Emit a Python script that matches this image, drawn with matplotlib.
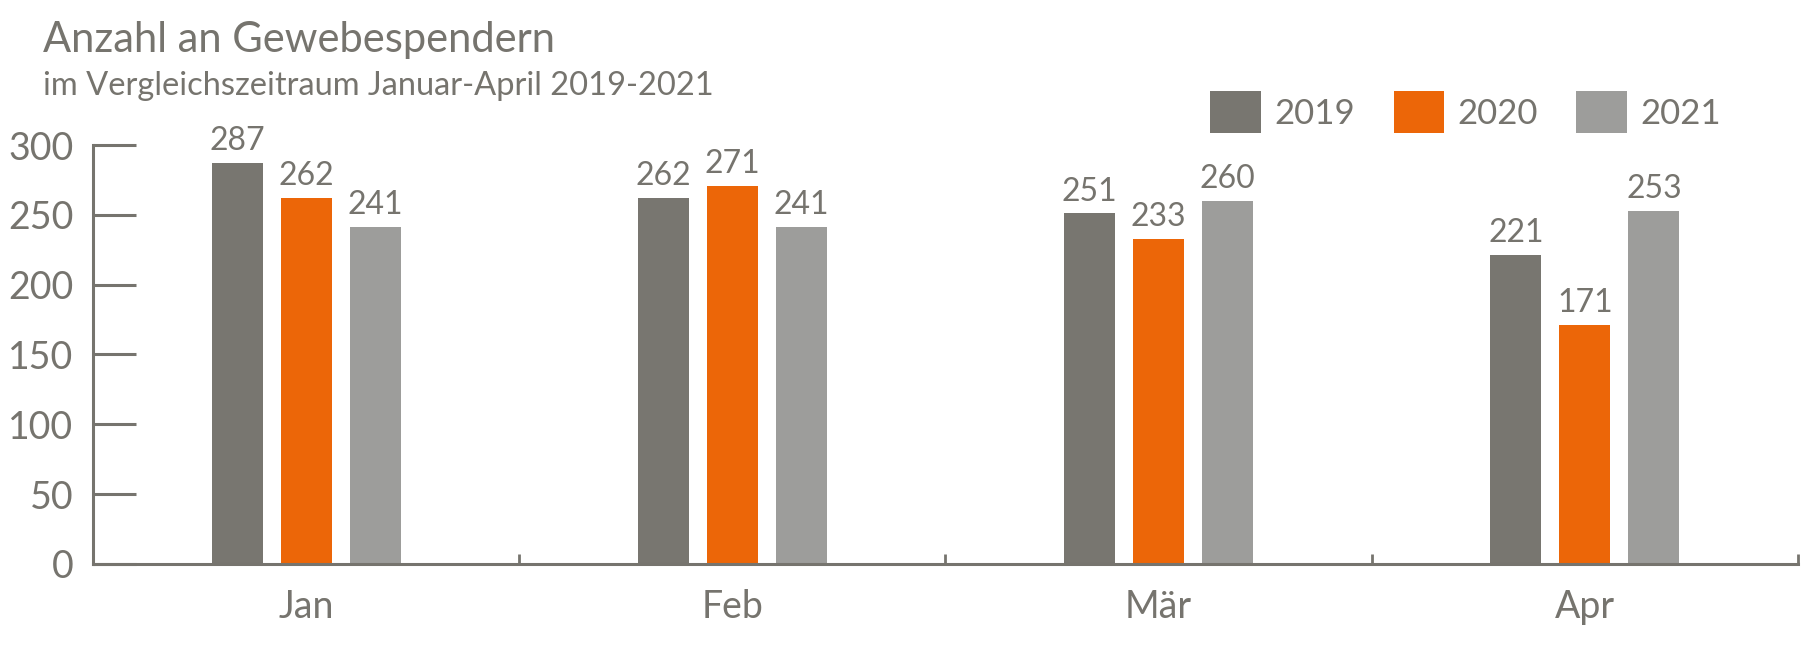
import matplotlib
matplotlib.use('Agg')
import numpy as np
import matplotlib.pyplot as plt

months = ['Jan', 'Feb', 'Mär', 'Apr']
years = ['2019', '2020', '2021']
v2019 = [287, 262, 251, 221]
v2020 = [262, 271, 233, 171]
v2021 = [241, 241, 260, 253]
yticks = [0, 50, 100, 150, 200, 250, 300]

colors = ['#787670', '#EC6608', '#9D9D9B']
txt = '#76746E'

plt.rcParams['font.family'] = ['Lato', 'DejaVu Sans']

fig = plt.figure(figsize=(18.13, 6.58), dpi=100)
ax = fig.add_axes([0.0513, 0.1429, 0.9404, 0.6367])

x = np.arange(len(months))
offsets = [-0.162, 0, 0.162]
handles = []
for vals, off, col, yr in zip([v2019, v2020, v2021], offsets, colors, years):
    bars = ax.bar(x + off, vals, width=0.12, color=col, label=yr, zorder=2)
    handles.append(bars)
    for xi, v in zip(x + off, vals):
        ax.annotate(str(v), (xi, v), xytext=(0, 5), textcoords='offset points',
                    ha='center', va='bottom', fontsize=23, color=txt)

ax.set_xlim(-0.5, 3.5)
ax.set_ylim(0, 300)
ax.set_yticks(yticks)
ax.set_xticks(x)
ax.set_xticklabels(months)
ax.set_xticks([0.5, 1.5, 2.5, 3.5], minor=True)

for s in ['top', 'right']:
    ax.spines[s].set_visible(False)
for s in ['left', 'bottom']:
    ax.spines[s].set_color(txt)
    ax.spines[s].set_linewidth(2.2)

ax.tick_params(axis='y', direction='in', length=31, width=2.2, color=txt,
               labelsize=27, labelcolor=txt, pad=14)
ax.tick_params(axis='x', which='major', length=0, labelsize=27,
               labelcolor=txt, pad=18)
ax.tick_params(axis='x', which='minor', direction='in', length=7, width=2,
               color=txt)

fig.text(0.0236, 0.921, 'Anzahl an Gewebespendern', fontsize=30, color=txt)
fig.text(0.0236, 0.855, 'im Vergleichszeitraum Januar-April 2019-2021',
         fontsize=23.5, color=txt)

leg = fig.legend(handles=handles, loc='upper right',
                 bbox_to_anchor=(0.959, 0.888), ncol=3, frameon=False,
                 fontsize=25, handlelength=1.45, handleheight=1.5,
                 columnspacing=1.1, handletextpad=0.4, borderpad=0,
                 labelcolor=txt)

fig.savefig('out.png', dpi=100)
